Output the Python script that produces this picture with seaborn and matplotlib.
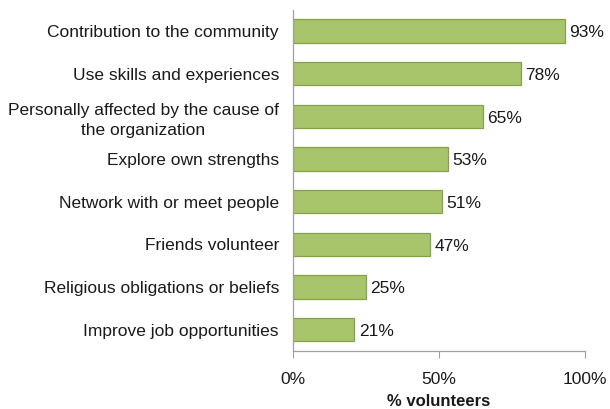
import matplotlib
matplotlib.use("Agg")
import matplotlib.pyplot as plt
import seaborn as sns
import pandas as pd

reasons = [
    "Contribution to the community",
    "Use skills and experiences",
    "Personally affected by the cause of\nthe organization",
    "Explore own strengths",
    "Network with or meet people",
    "Friends volunteer",
    "Religious obligations or beliefs",
    "Improve job opportunities",
]
shares = [93, 78, 65, 53, 51, 47, 25, 21]
x_ticks = [0, 50, 100]
x_tick_labels = ["0%", "50%", "100%"]

df = pd.DataFrame({"reason": reasons, "share": shares})

sns.set_theme(style="white")
plt.rcParams["font.family"] = ["Liberation Sans", "DejaVu Sans"]

fig = plt.figure(figsize=(6.10, 4.09), dpi=100)
ax = fig.add_axes([0.480, 0.142, 0.479, 0.834])

sns.barplot(data=df, x="share", y="reason", orient="h", ax=ax,
            color="#A9C56C", edgecolor="#82A24A", linewidth=0.9,
            width=0.55, saturation=1)

for i, v in enumerate(shares):
    ax.text(v + 1.6, i + 0.04, f"{v}%", va="center", ha="left", fontsize=12.5, color="#1a1a1a")

ax.set_xlim(0, 100)
ax.set_ylim(7.5, -0.5)
ax.set_xticks(x_ticks)
ax.set_xticklabels(x_tick_labels, fontsize=12.5, color="#1a1a1a")
ax.set_xlabel("% volunteers", fontsize=12, fontweight="bold", color="#1a1a1a", labelpad=5)
ax.set_ylabel("")
for lab in ax.get_yticklabels():
    lab.set_multialignment("center")
    lab.set_linespacing(1.4)
ax.tick_params(axis="y", length=0, pad=10, labelsize=12.5, labelcolor="#1a1a1a")
ax.tick_params(axis="x", length=5, width=0.8, color="#A0A0A0", pad=10, direction="out", bottom=True)

for s in ["top", "right"]:
    ax.spines[s].set_visible(False)
for s in ["left", "bottom"]:
    ax.spines[s].set_color("#A0A0A0")
    ax.spines[s].set_linewidth(0.9)

fig.savefig("out.png", dpi=100)
